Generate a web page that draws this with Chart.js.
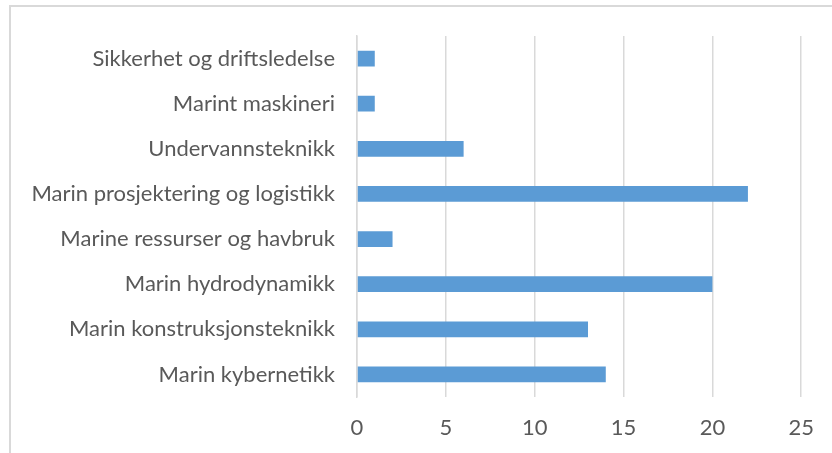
<!DOCTYPE html>
<html>
<head>
<meta charset="utf-8">
<script src="https://cdn.jsdelivr.net/npm/chart.js@4/dist/chart.umd.min.js"></script>
<style>
  html, body { margin: 0; padding: 0; background: #fff; overflow: hidden; }
  #frame { position: absolute; left: 9px; top: 5px; width: 900px; height: 600px; border: 2px solid #d9d9d9; box-sizing: border-box; }
  #wrap { position: absolute; left: 0; top: 0; width: 832px; height: 453px; }
</style>
</head>
<body>
<div id="frame"></div>
<div id="wrap"><canvas id="c" width="832" height="453"></canvas></div>
<script>
const categories = [
  "Sikkerhet og driftsledelse",
  "Marint maskineri",
  "Undervannsteknikk",
  "Marin prosjektering og logistikk",
  "Marine ressurser og havbruk",
  "Marin hydrodynamikk",
  "Marin konstruksjonsteknikk",
  "Marin kybernetikk"
];
const values = [1, 1, 6, 22, 2, 20, 13, 14];
const xTicks = [0, 5, 10, 15, 20, 25];

const textColor = '#595959';
const fontSpec = { family: 'Lato', size: 22 };

new Chart(document.getElementById('c'), {
  type: 'bar',
  data: {
    labels: categories,
    datasets: [{
      data: values,
      backgroundColor: '#5b9bd5',
      borderWidth: 0,
      categoryPercentage: 1,
      barPercentage: 0.35
    }]
  },
  options: {
    indexAxis: 'y',
    responsive: false,
    animation: false,
    layout: { padding: { top: 36, right: 29, bottom: 0, left: 0 } },
    plugins: { legend: { display: false }, tooltip: { enabled: false } },
    scales: {
      x: {
        min: xTicks[0],
        max: xTicks[xTicks.length - 1],
        afterBuildTicks: (s) => { s.ticks = xTicks.map(v => ({ value: v })); },
        grid: { color: '#d9d9d9', lineWidth: 1.5, drawTicks: false },
        border: { display: false },
        ticks: { color: textColor, font: fontSpec, padding: 18, maxRotation: 0 },
        afterFit: (s) => { s.height = 56; }
      },
      y: {
        grid: { display: false, drawTicks: false },
        border: { display: true, color: '#d9d9d9', width: 1.5 },
        ticks: { color: textColor, font: fontSpec, padding: 22 },
        afterFit: (s) => { s.width = 357; }
      }
    }
  }
});
</script>
</body>
</html>
